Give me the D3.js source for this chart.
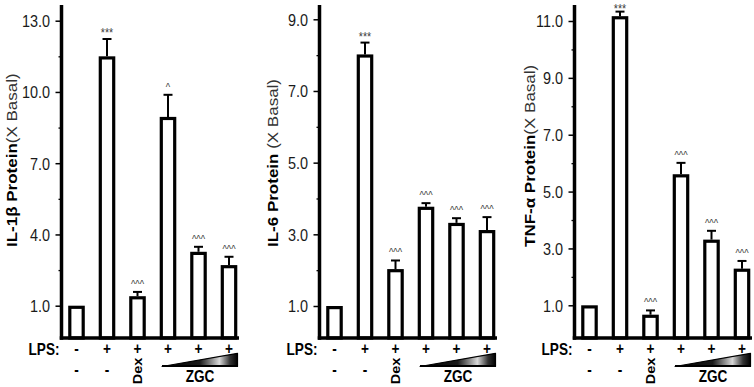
<!DOCTYPE html>
<html><head><meta charset="utf-8">
<script src="https://cdn.jsdelivr.net/npm/d3@7"></script>
<style>
body{margin:0;background:#fff}
svg{display:block}
text{font-family:"Liberation Sans",Arial,Helvetica,sans-serif}
</style>
</head><body>
<svg id="c" width="754" height="387"></svg>
<script>
// ---------- data ----------
const conditions = ["Basal","LPS","LPS+Dex","LPS+ZGC low","LPS+ZGC mid","LPS+ZGC high"];
const lpsRow   = ["-","+","+","+","+","+"];
const treatRow = ["-","-","Dex","","",""];
const zgcLabel = "ZGC";
const lpsLabel = "LPS:";

const il1bValues = [1.0, 11.5, 1.4, 8.95, 3.27, 2.71];
const il1bErrors = [0, 0.73, 0.18, 0.93, 0.21, 0.35];
const il1bMarks  = ["", "***", "^^^", "^", "^^^", "^^^"];
const il1bTicks  = [1, 4, 7, 10, 13];
const il1bMinor  = [2.5, 5.5, 8.5, 11.5];

const il6Values = [1.0, 8.02, 2.03, 3.77, 3.32, 3.12];
const il6Errors = [0, 0.33, 0.24, 0.10, 0.13, 0.36];
const il6Marks  = ["", "***", "^^^", "^^^", "^^^", "^^^"];
const il6Ticks  = [1, 3, 5, 7, 9];
const il6Minor  = [2, 4, 6, 8];

const tnfValues = [1.0, 11.17, 0.67, 5.61, 3.31, 2.29];
const tnfErrors = [0, 0.16, 0.15, 0.40, 0.31, 0.27];
const tnfMarks  = ["", "***", "^^^", "^^^", "^^^", "^^^"];
const tnfTicks  = [1, 3, 5, 7, 9, 11];
const tnfMinor  = [2, 4, 6, 8, 10];

const yLabels = [
  ["IL-1β Protein", "(X Basal)"],
  ["IL-6 Protein", " (X Basal)"],
  ["TNF-α Protein", "(X Basal)"]
];

// ---------- layout ----------
const SX = 0.85;          // the original figure is squeezed horizontally
const baseY = 338;
const axisTop = 5;
const layout = [
  {x0: 61.5,  range: [305.7, 20.7], labelDx: -45},
  {x0: 319.5, range: [306.0, 19.3], labelDx: -42},
  {x0: 574.5, range: [305.3, 21.0], labelDx: -40}
];
const series = [
  {values: il1bValues, errors: il1bErrors, marks: il1bMarks, ticks: il1bTicks, minor: il1bMinor},
  {values: il6Values,  errors: il6Errors,  marks: il6Marks,  ticks: il6Ticks,  minor: il6Minor},
  {values: tnfValues,  errors: tnfErrors,  marks: tnfMarks,  ticks: tnfTicks,  minor: tnfMinor}
];

const svg = d3.select("#c");
const defs = svg.append("defs");
const grad = defs.append("linearGradient").attr("id","wedgeGrad")
  .attr("x1","0").attr("y1","0").attr("x2","1").attr("y2","0");
[[0,"#000"],[0.5,"#1a1a1a"],[0.76,"#d8d8d8"],[0.9,"#333"],[1,"#000"]]
  .forEach(([o,c]) => grad.append("stop").attr("offset", o).attr("stop-color", c));

series.forEach((s, pi) => {
  const L = layout[pi];
  const g = svg.append("g");
  const top = d3.max(s.ticks);
  const y = d3.scaleLinear().domain([1, top]).range(L.range);
  const x = d3.scalePoint().domain(conditions).range([L.x0 + 15, L.x0 + 15 + 30.5 * 5]);

  // minor ticks
  const minorAxis = d3.axisLeft(y).tickValues(s.minor).tickSize(3).tickFormat("");
  const gm = g.append("g").attr("transform", `translate(${L.x0},0)`).call(minorAxis);
  gm.select(".domain").remove();
  gm.selectAll(".tick line").attr("stroke","#000").attr("stroke-width",1.3);

  // major ticks
  const majorAxis = d3.axisLeft(y).tickValues(s.ticks).tickSize(6).tickFormat(d3.format(".1f"));
  const ga = g.append("g").attr("transform", `translate(${L.x0},0)`).call(majorAxis);
  ga.select(".domain").remove();
  ga.selectAll(".tick line").attr("stroke","#000").attr("stroke-width",1.5);
  ga.selectAll(".tick text")
    .attr("x", -11.5 / SX).attr("dy","0.35em")
    .attr("transform", `scale(${SX},1)`)
    .attr("font-size", 17).attr("fill","#1a1a1a")
    .attr("font-family", '"Liberation Sans",Arial,sans-serif');

  // bars
  const bw = 13.4;
  g.selectAll("rect.bar").data(conditions).join("rect")
    .attr("class","bar")
    .attr("x", d => x(d) - bw / 2)
    .attr("y", (d,i) => y(s.values[i]) + 1.6)
    .attr("width", bw)
    .attr("height", (d,i) => baseY - (y(s.values[i]) + 1.6))
    .attr("fill","#fff").attr("stroke","#000").attr("stroke-width",3.2);

  // error bars + significance marks
  conditions.forEach((c, i) => {
    const e = s.errors[i];
    const cx = x(c);
    const capY = y(s.values[i] + e);
    if (e > 0) {
      g.append("line").attr("x1",cx).attr("x2",cx)
        .attr("y1", y(s.values[i])).attr("y2", capY)
        .attr("stroke","#000").attr("stroke-width",2);
      g.append("line").attr("x1",cx - 4.5).attr("x2",cx + 4.5)
        .attr("y1", capY).attr("y2", capY)
        .attr("stroke","#000").attr("stroke-width",2);
    }
    const m = s.marks[i];
    if (m) {
      const star = m.includes("*");
      g.append("text")
        .attr("transform", `translate(${cx},${Math.max(capY - (star ? 1.5 : 4), 12.5)}) scale(${SX},1)`)
        .attr("text-anchor","middle")
        .attr("font-size", star ? 12.5 : 11)
        .attr("fill", "#3a3a3a")
        .text(m);
    }
  });

  // axis lines
  g.append("line").attr("x1",L.x0).attr("x2",L.x0).attr("y1",axisTop).attr("y2",baseY + 1.75)
    .attr("stroke","#000").attr("stroke-width",3.5);
  g.append("line").attr("x1",L.x0 - 1.75).attr("x2",L.x0 + 177.5).attr("y1",baseY).attr("y2",baseY)
    .attr("stroke","#000").attr("stroke-width",3.5);

  // y label
  const yl = g.append("text")
    .attr("transform", `translate(${L.x0 + L.labelDx},247) scale(${SX},1) rotate(-90)`)
    .attr("text-anchor","start").attr("font-size",17);
  yl.append("tspan").attr("font-weight","bold").attr("fill","#000").text(yLabels[pi][0]);
  yl.append("tspan").attr("font-weight","normal").attr("fill","#333").text(yLabels[pi][1]);

  // LPS row
  g.append("text")
    .attr("transform", `translate(${L.x0 - 2},355) scale(${SX},1)`)
    .attr("text-anchor","end").attr("font-size",16).attr("font-weight","bold")
    .text(lpsLabel);
  conditions.forEach((c, i) => {
    g.append("text")
      .attr("transform", `translate(${x(c)},354) scale(${SX},1)`)
      .attr("text-anchor","middle").attr("font-size",16).attr("font-weight","bold")
      .text(lpsRow[i]);
    const t = treatRow[i];
    if (t === "-") {
      g.append("text")
        .attr("transform", `translate(${x(c)},375) scale(${SX},1)`)
        .attr("text-anchor","middle").attr("font-size",16).attr("font-weight","bold")
        .text(t);
    } else if (t) {
      g.append("text")
        .attr("transform", `translate(${x(c)},371) scale(${SX},1) rotate(-90)`)
        .attr("text-anchor","middle").attr("dominant-baseline","central")
        .attr("font-size",14.5).attr("font-weight","bold")
        .text(t);
    }
  });

  // ZGC wedge
  const c4 = x(conditions[3]), c6 = x(conditions[5]);
  g.append("polygon")
    .attr("points", [[c4 - 6, 366.5],[c6 + 8.5, 366.5],[c6 + 8.5, 353.3]].map(p => p.join(",")).join(" "))
    .attr("fill","url(#wedgeGrad)").attr("stroke","#000").attr("stroke-width",1.2).attr("stroke-linejoin","round");
  g.append("line").attr("x1", c4 - 6).attr("x2", c6 + 8.5).attr("y1", 366).attr("y2", 366)
    .attr("stroke","#000").attr("stroke-width",2);
  g.append("text")
    .attr("transform", `translate(${x(conditions[4]) + 1.5},381.5) scale(${SX},1)`)
    .attr("text-anchor","middle").attr("font-size",16).attr("font-weight","bold")
    .text(zgcLabel);
});
</script>
</body></html>
